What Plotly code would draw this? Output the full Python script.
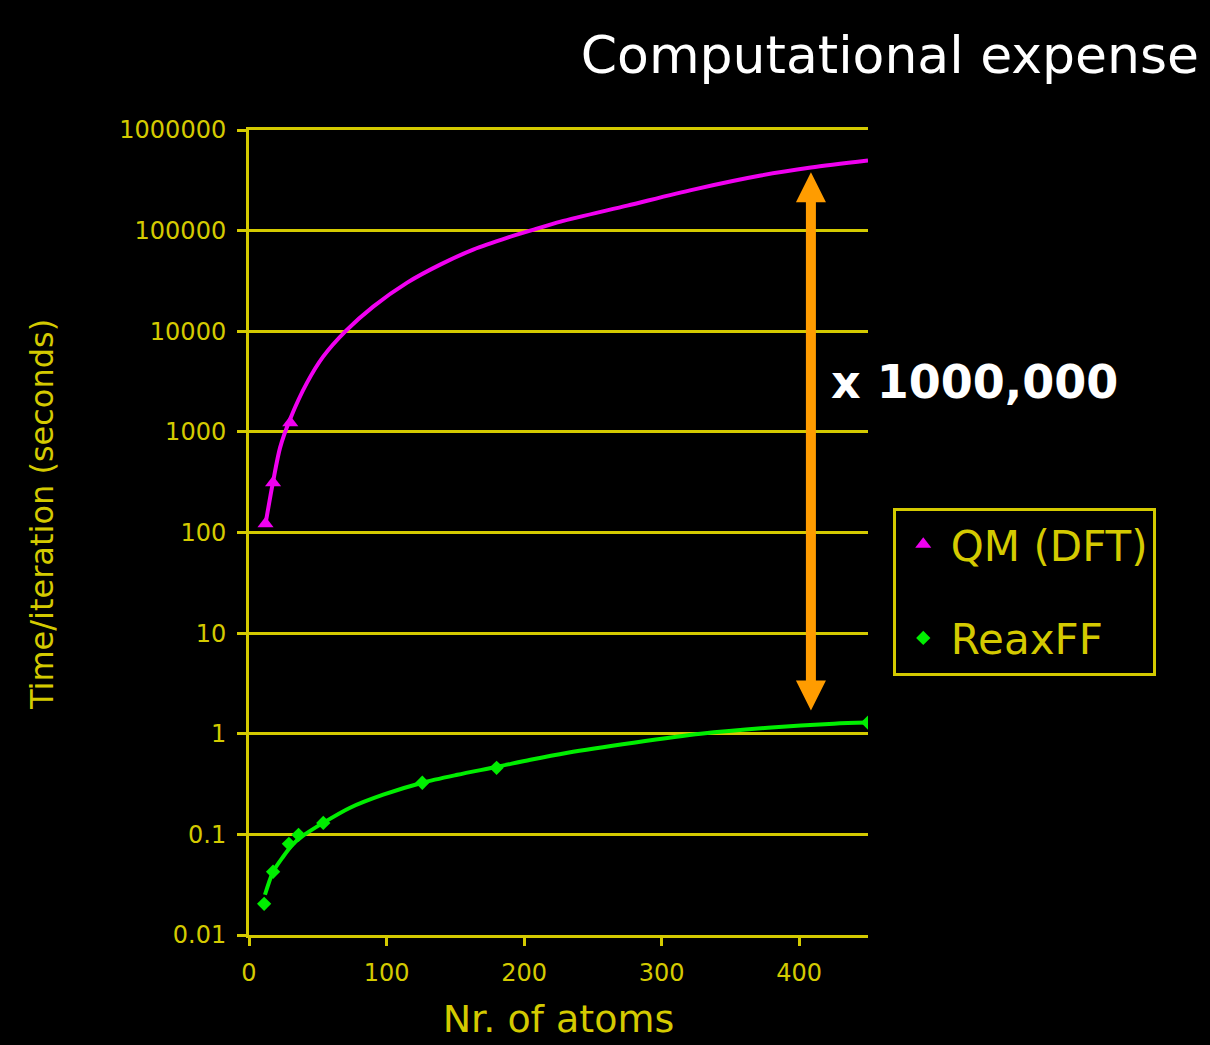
import plotly.graph_objects as go

# Measured timings per iteration
qm_atoms = [12, 17.5, 30]
qm_time = [122, 313, 1234]

reax_atoms = [11, 17.5, 29, 36, 54, 126, 180, 450]
reax_time = [0.0204, 0.0425, 0.0806, 0.099, 0.130, 0.326, 0.459, 1.29]

# Trend lines through the measurements
qm_trend_atoms = [12, 17.5, 22.6, 30, 42.2, 53.9, 70.6, 90.3, 115, 139, 163, 188,
                  207, 226.5, 275, 323, 372, 408.5, 450]
qm_trend_time = [122, 320, 697, 1350, 3083, 5593, 10140, 17580, 30420, 45930, 64770,
                 85160, 102300, 122800, 177300, 255700, 352600, 423000, 496500]

reax_trend_atoms = [11.6, 17.5, 24.8, 32, 39.3, 53.9, 73.5, 97.6, 126, 151.5, 180.6,
                    204.6, 231.6, 279.6, 328.4, 377.2, 425.2, 450]
reax_trend_time = [0.0251, 0.0425, 0.060, 0.080, 0.097, 0.130, 0.184, 0.248, 0.326,
                   0.391, 0.470, 0.552, 0.648, 0.814, 1.0, 1.147, 1.257, 1.29]

# Double arrow marking the gap between the two methods
gap_x = 408.5
gap_tips = [1.7, 3.8e5]
gap_shaft = [3.3, 2.0e5]

y_ticks = [1e6, 1e5, 1e4, 1e3, 100, 10, 1, 0.1, 0.01]
y_ticktext = ["1000000", "100000", "10000", "1000", "100", "10", "1", "0.1", "0.01"]
x_ticks = [0, 100, 200, 300, 400]

YELLOW = "#D4CA00"
MAGENTA = "#F000F0"
GREEN = "#00EE00"
ORANGE = "#FF9C00"
FONT = "DejaVu Sans"

fig = go.Figure()

fig.add_trace(go.Scatter(
    x=qm_trend_atoms, y=qm_trend_time, mode="lines",
    line=dict(color=MAGENTA, width=4, shape="spline", smoothing=0.8),
    showlegend=False, hoverinfo="skip"))
fig.add_trace(go.Scatter(
    x=reax_trend_atoms, y=reax_trend_time, mode="lines",
    line=dict(color=GREEN, width=4, shape="spline", smoothing=0.8),
    showlegend=False, hoverinfo="skip"))

fig.add_trace(go.Scatter(
    x=qm_atoms, y=qm_time, mode="markers", name="QM (DFT)",
    legendgroup="qm",
    marker=dict(symbol="triangle-up", size=14, color=MAGENTA)))
fig.add_trace(go.Scatter(
    x=reax_atoms, y=reax_time, mode="markers", name="ReaxFF",
    legendgroup="reax",
    marker=dict(symbol="diamond", size=11, color=GREEN)))

# Arrow shaft and heads
fig.add_trace(go.Scatter(
    x=[gap_x, gap_x], y=gap_shaft, mode="lines",
    line=dict(color=ORANGE, width=10),
    showlegend=False, hoverinfo="skip"))
fig.add_trace(go.Scatter(
    x=[gap_x, gap_x], y=gap_tips, mode="markers",
    marker=dict(symbol=["arrow-down", "arrow-up"], size=30, color=ORANGE,
                line=dict(width=0)),
    showlegend=False, hoverinfo="skip"))

fig.add_annotation(
    text="<b>x 1000,000</b>", xref="paper", yref="paper",
    x=0.937, y=0.687, xanchor="left", yanchor="middle", showarrow=False,
    font=dict(family=FONT, size=46, color="white"))

# Vertical axis title
fig.add_annotation(
    text="Time/iteration (seconds)", xref="paper", yref="paper",
    x=-0.334, y=0.522, xanchor="center", yanchor="middle", showarrow=False,
    textangle=-90, font=dict(family=FONT, size=32, color=YELLOW))

fig.update_layout(
    width=1210, height=1045,
    paper_bgcolor="black", plot_bgcolor="black",
    margin=dict(l=249, r=342, t=130, b=110),
    title=dict(text="Computational expense", xref="container", yref="container",
               x=0.991, xanchor="right", y=0.948, yanchor="middle",
               font=dict(family=FONT, size=52, color="white")),
    font=dict(family=FONT, color=YELLOW),
    legend=dict(
        x=1.04, y=0.531, xanchor="left", yanchor="top",
        bgcolor="black", bordercolor=YELLOW, borderwidth=3,
        font=dict(family=FONT, size=42, color=YELLOW),
        tracegroupgap=36, itemwidth=45),
)

fig.update_xaxes(
    range=[0, 450], tickvals=x_ticks, showgrid=False, zeroline=False,
    showline=True, linecolor=YELLOW, linewidth=3, mirror=True,
    ticks="outside", ticklen=8, tickwidth=3, tickcolor=YELLOW,
    ticklabelstandoff=6,
    tickfont=dict(family=FONT, size=24, color=YELLOW),
    title=dict(text="Nr. of atoms", font=dict(family=FONT, size=38, color=YELLOW),
               standoff=20))

fig.update_yaxes(
    type="log", range=[-2, 6], tickvals=y_ticks, ticktext=y_ticktext,
    showgrid=True, gridcolor=YELLOW, gridwidth=2.5, zeroline=False,
    showline=True, linecolor=YELLOW, linewidth=3,
    ticks="outside", ticklen=9, tickwidth=3, tickcolor=YELLOW,
    ticklabelstandoff=6,
    tickfont=dict(family=FONT, size=24, color=YELLOW))

fig.write_html("out.html")
